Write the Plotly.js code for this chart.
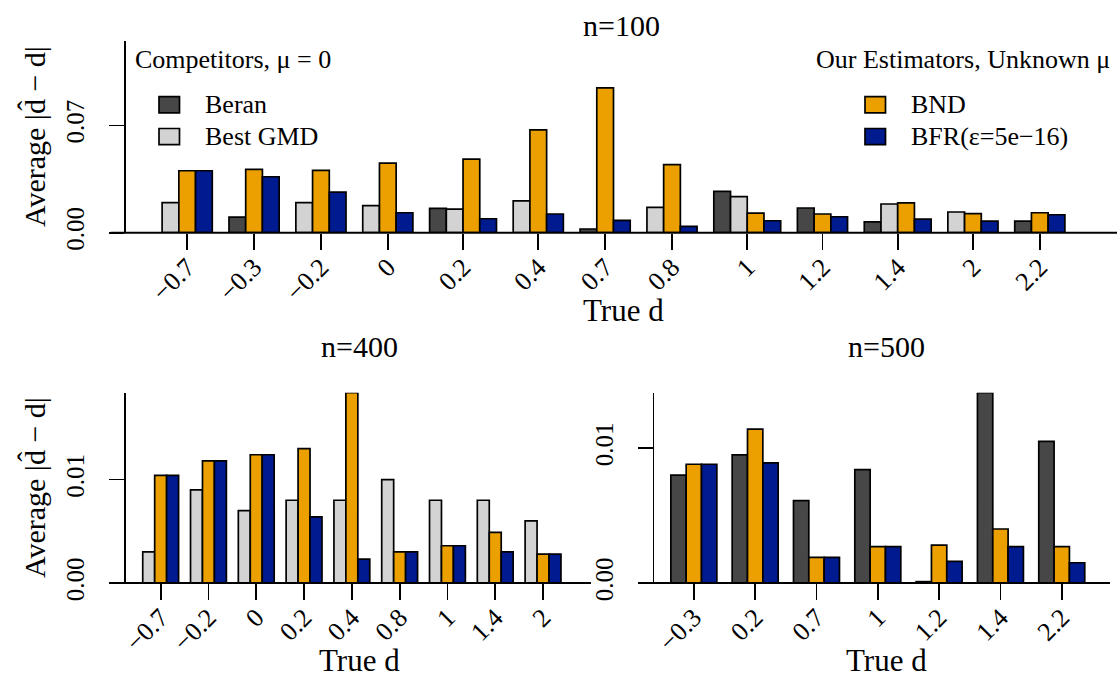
<!DOCTYPE html>
<html>
<head>
<meta charset="utf-8">
<script src="https://cdn.plot.ly/plotly-3.0.1.min.js"></script>
<style>html,body{margin:0;padding:0;background:#fff;}#chart{width:1118px;height:679px;}</style>
</head>
<body>
<div id="chart"></div>
<script>
// ---------------- data ----------------
const seriesNames = ["Beran", "Best GMD", "BND", "BFR(ε=5e−16)"];

// n = 100
const d100 = ["−0.7","−0.3","−0.2","0","0.2","0.4","0.7","0.8","1","1.2","1.4","2","2.2"];
const beran100 = [null, 0.0102, null, null, 0.0159, null, 0.0024, null, 0.0270, 0.0161, 0.0070, null, 0.0076];
const gmd100   = [0.0196, null, 0.0196, 0.0176, 0.0154, 0.0207, null, 0.0165, 0.0235, null, 0.0187, 0.0135, null];
const bnd100   = [0.0404, 0.0413, 0.0407, 0.0454, 0.0480, 0.0670, 0.0944, 0.0444, 0.0128, 0.0122, 0.0194, 0.0124, 0.0130];
const bfr100   = [0.0404, 0.0365, 0.0265, 0.0130, 0.0091, 0.0122, 0.0080, 0.0041, 0.0078, 0.0104, 0.0089, 0.0076, 0.0117];

// n = 400
const d400 = ["−0.7","−0.2","0","0.2","0.4","0.8","1","1.4","2"];
const beran400 = [null, null, null, null, null, null, null, null, null];
const gmd400   = [0.0030, 0.0090, 0.0070, 0.0080, 0.0080, 0.0100, 0.0080, 0.0080, 0.0060];
const bnd400   = [0.0104, 0.0118, 0.0124, 0.0130, 0.0184, 0.0030, 0.0036, 0.0049, 0.0028];
const bfr400   = [0.0104, 0.0118, 0.0124, 0.0064, 0.0023, 0.0030, 0.0036, 0.0030, 0.0028];

// n = 500
const d500 = ["−0.3","0.2","0.7","1","1.2","1.4","2.2"];
const beran500 = [0.0080, 0.0095, 0.0061, 0.0084, 0.0001, 0.0141, 0.0105];
const gmd500   = [null, null, null, null, null, null, null];
const bnd500   = [0.0088, 0.0114, 0.0019, 0.0027, 0.0028, 0.0040, 0.0027];
const bfr500   = [0.0088, 0.0089, 0.0019, 0.0027, 0.0016, 0.0027, 0.0015];

const yTicks100 = [0, 0.07], yTickText100 = ["0.00", "0.07"];
const yTicksLow = [0, 0.01], yTickTextLow = ["0.00", "0.01"];

// ---------------- style ----------------
const colors = ["#474747", "#d3d3d3", "#eba000", "#001a8f"];
const FONT = "Liberation Serif, Times New Roman, serif";
const W = 1118, H = 679;
const px = x => x / W;
const py = y => 1 - y / H;

// R-style barplot layout: bars of width 1, one unit of space before each group,
// missing values are dropped, tick at the group centre.
function layoutGroups(seriesArr) {
  const nG = seriesArr[0].length;
  const xs = seriesArr.map(() => []);
  const ys = seriesArr.map(() => []);
  const centers = [];
  let cur = 0;
  for (let g = 0; g < nG; g++) {
    cur += 1;
    const mids = [];
    seriesArr.forEach((s, k) => {
      if (s[g] !== null && s[g] !== undefined) {
        xs[k].push(cur + 0.5); ys[k].push(s[g]); mids.push(cur + 0.5); cur += 1;
      }
    });
    centers.push(mids.reduce((a, b) => a + b, 0) / mids.length);
  }
  const span = cur - 1;
  return {xs, ys, centers, range: [1 - 0.04 * span, cur + 0.04 * span]};
}

const panels = [
  {series: [beran100, gmd100, bnd100, bfr100], cats: d100, xa: "x", ya: "y",
   xd: [126, 1101], yd: [40.7, 232.7], yr: [0, 0.1252], yt: yTicks100, ytt: yTickText100},
  {series: [beran400, gmd400, bnd400, bfr400], cats: d400, xa: "x2", ya: "y2",
   xd: [126, 577.7], yd: [392.7, 583], yr: null, yt: yTicksLow, ytt: yTickTextLow},
  {series: [beran500, gmd500, bnd500, bfr500], cats: d500, xa: "x3", ya: "y3",
   xd: [654.3, 1101.3], yd: [392.7, 583], yr: null, yt: yTicksLow, ytt: yTickTextLow}
];

const traces = [];
const layout = {
  width: W, height: H, margin: {l: 0, r: 0, t: 0, b: 0},
  paper_bgcolor: "#ffffff", plot_bgcolor: "rgba(0,0,0,0)",
  showlegend: false, barmode: "overlay",
  font: {family: FONT, color: "#000"},
  shapes: [], annotations: []
};

panels.forEach((p, i) => {
  const L = layoutGroups(p.series);
  L.xs.forEach((xv, k) => {
    if (!xv.length) return;
    traces.push({
      type: "bar", x: xv, y: L.ys[k], width: 1, name: seriesNames[k],
      xaxis: p.xa, yaxis: p.ya,
      marker: {color: colors[k], line: {color: "#000", width: 1.7}},
      hoverinfo: "skip"
    });
  });
  const suffix = i === 0 ? "" : String(i + 1);
  const allVals = [].concat(...p.series).filter(v => v !== null);
  const yr = p.yr || [0, Math.max(...allVals)];
  layout["xaxis" + suffix] = {
    domain: [px(p.xd[0]), px(p.xd[1])], range: L.range, anchor: p.ya,
    tickmode: "array", tickvals: L.centers, ticktext: p.cats, tickangle: -45,
    ticks: "outside", ticklen: 16, tickwidth: 1.7, tickcolor: "#000",
    ticklabelstandoff: -8,
    showline: false, showgrid: false, zeroline: false,
    tickfont: {family: FONT, size: 26, color: "#000"}, fixedrange: true
  };
  layout["yaxis" + suffix] = {
    domain: [py(p.yd[1]), py(p.yd[0])], range: yr, anchor: p.xa,
    tickmode: "array", tickvals: p.yt, ticktext: p.ytt, tickangle: -90,
    ticks: "outside", ticklen: 15, tickwidth: 1.7, tickcolor: "#000",
    ticklabelstandoff: 15,
    showline: true, linewidth: 1.7, linecolor: "#000",
    showgrid: false, zeroline: false,
    tickfont: {family: FONT, size: 25, color: "#000"}, fixedrange: true
  };
});

// baselines
[[110.7, 1117, 232.7], [110.7, 591, 583], [638, 1110, 583]].forEach(b => {
  layout.shapes.push({type: "line", xref: "paper", yref: "paper",
    x0: px(b[0]), x1: px(b[1]), y0: py(b[2]), y1: py(b[2]),
    line: {color: "#000", width: 2}});
});

// legend swatches
const sw = [
  {x: 159, y: 96.7, c: colors[0], t: seriesNames[0], tx: 203},
  {x: 159, y: 128.5, c: colors[1], t: seriesNames[1], tx: 203},
  {x: 865, y: 96.7, c: colors[2], t: seriesNames[2], tx: 909},
  {x: 865, y: 128.5, c: colors[3], t: seriesNames[3], tx: 909}
];
sw.forEach(s => {
  layout.shapes.push({type: "rect", xref: "paper", yref: "paper",
    x0: px(s.x), x1: px(s.x + 20.5), y0: py(s.y + 16.2), y1: py(s.y),
    fillcolor: s.c, line: {color: "#000", width: 1.7}});
  layout.annotations.push({xref: "paper", yref: "paper", x: px(s.tx), y: py(s.y + 8),
    xanchor: "left", yanchor: "middle", showarrow: false, text: s.t,
    font: {family: FONT, size: 26, color: "#000"}});
});

function ann(text, x, y, size, opts) {
  layout.annotations.push(Object.assign({xref: "paper", yref: "paper", x: px(x), y: py(y),
    xanchor: "center", yanchor: "middle", showarrow: false, text: text,
    font: {family: FONT, size: size, color: "#000"}}, opts || {}));
}
ann("Competitors, μ = 0", 132.7, 59, 26, {xanchor: "left"});
ann("Our Estimators, Unknown μ", 1112, 59, 26, {xanchor: "right"});
ann("n=100", 621, 26, 30);
ann("n=400", 359, 346, 30);
ann("n=500", 886, 346, 30);
ann("True d", 623, 311, 31);
ann("True d", 359, 660, 31);
ann("True d", 886, 660, 31);
ann("Average |d̂ − d|", 34, 137, 30, {textangle: -90});
ann("Average |d̂ − d|", 34, 488, 30, {textangle: -90});

Plotly.newPlot("chart", traces, layout, {staticPlot: true, displayModeBar: false});
</script>
</body>
</html>
